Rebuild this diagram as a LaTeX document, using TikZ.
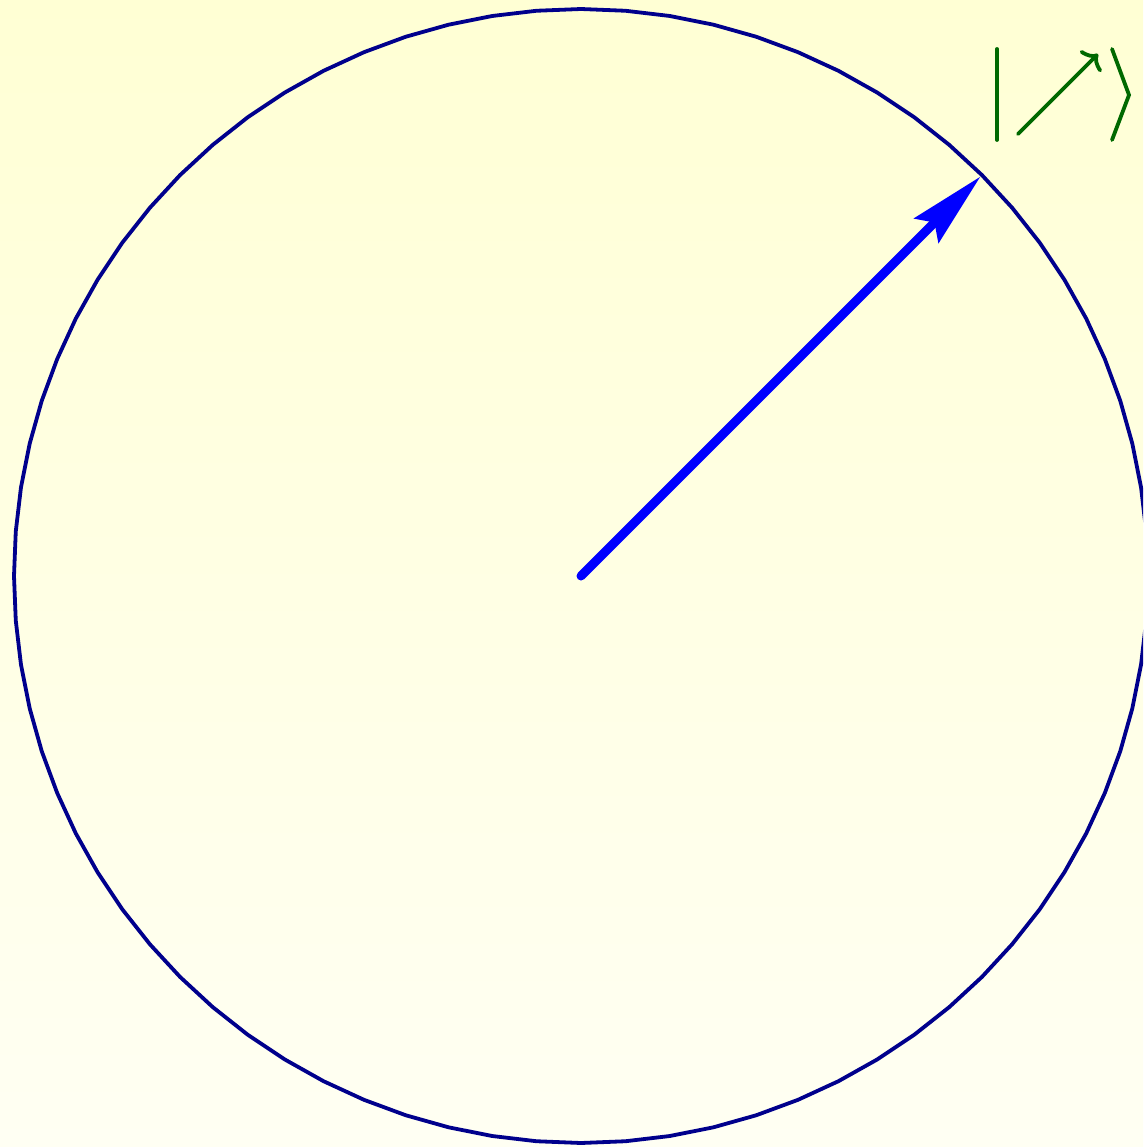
\documentclass[tikz,border=0pt]{standalone}
\usetikzlibrary{arrows.meta}
\definecolor{bgtop}{RGB}{255,255,212}
\definecolor{bgbot}{RGB}{255,255,243}
\definecolor{circnavy}{RGB}{0,0,140}
\definecolor{ketgreen}{RGB}{0,105,0}
\tikzset{
  circleline/.style={draw=circnavy, line width=3.8pt, line join=round},
  vecarrow/.style={draw=blue, line width=9pt, line cap=round, -{Stealth[length=76pt,width=34pt,inset=11pt]}},
  ketline/.style={draw=ketgreen, line width=3.8pt, line cap=round, line join=miter},
}
\begin{document}
\begin{tikzpicture}[x=1pt,y=-1pt]
\useasboundingbox (0,0) rectangle (1143,1147);
\shade[top color=bgtop, bottom color=bgbot] (0,0) rectangle (1143,1147);
\clip (0,0) rectangle (1143,1147);
\coordinate (center) at (581,576);
\coordinate (tip) at (980.5,176.5);
\draw[circleline] plot[samples=81, domain=0:360] ({581+567*cos(\x)},{576-567*sin(\x)}) -- cycle;
\draw[vecarrow] (center) -- (tip);
% ket |↗>
\coordinate (barT) at (997,49);
\coordinate (barB) at (997,140);
\coordinate (arS) at (1018,134);
\coordinate (arE) at (1098,54);
\coordinate (brT) at (1112,49);
\coordinate (brM) at (1129,95);
\coordinate (brB) at (1112,140);
\draw[ketline] (barT) -- (barB);
\draw[ketline, -{To[length=12pt,width=30pt]}] (arS) -- (arE);
\draw[ketline] (brT) -- (brM) -- (brB);
\end{tikzpicture}
\end{document}
